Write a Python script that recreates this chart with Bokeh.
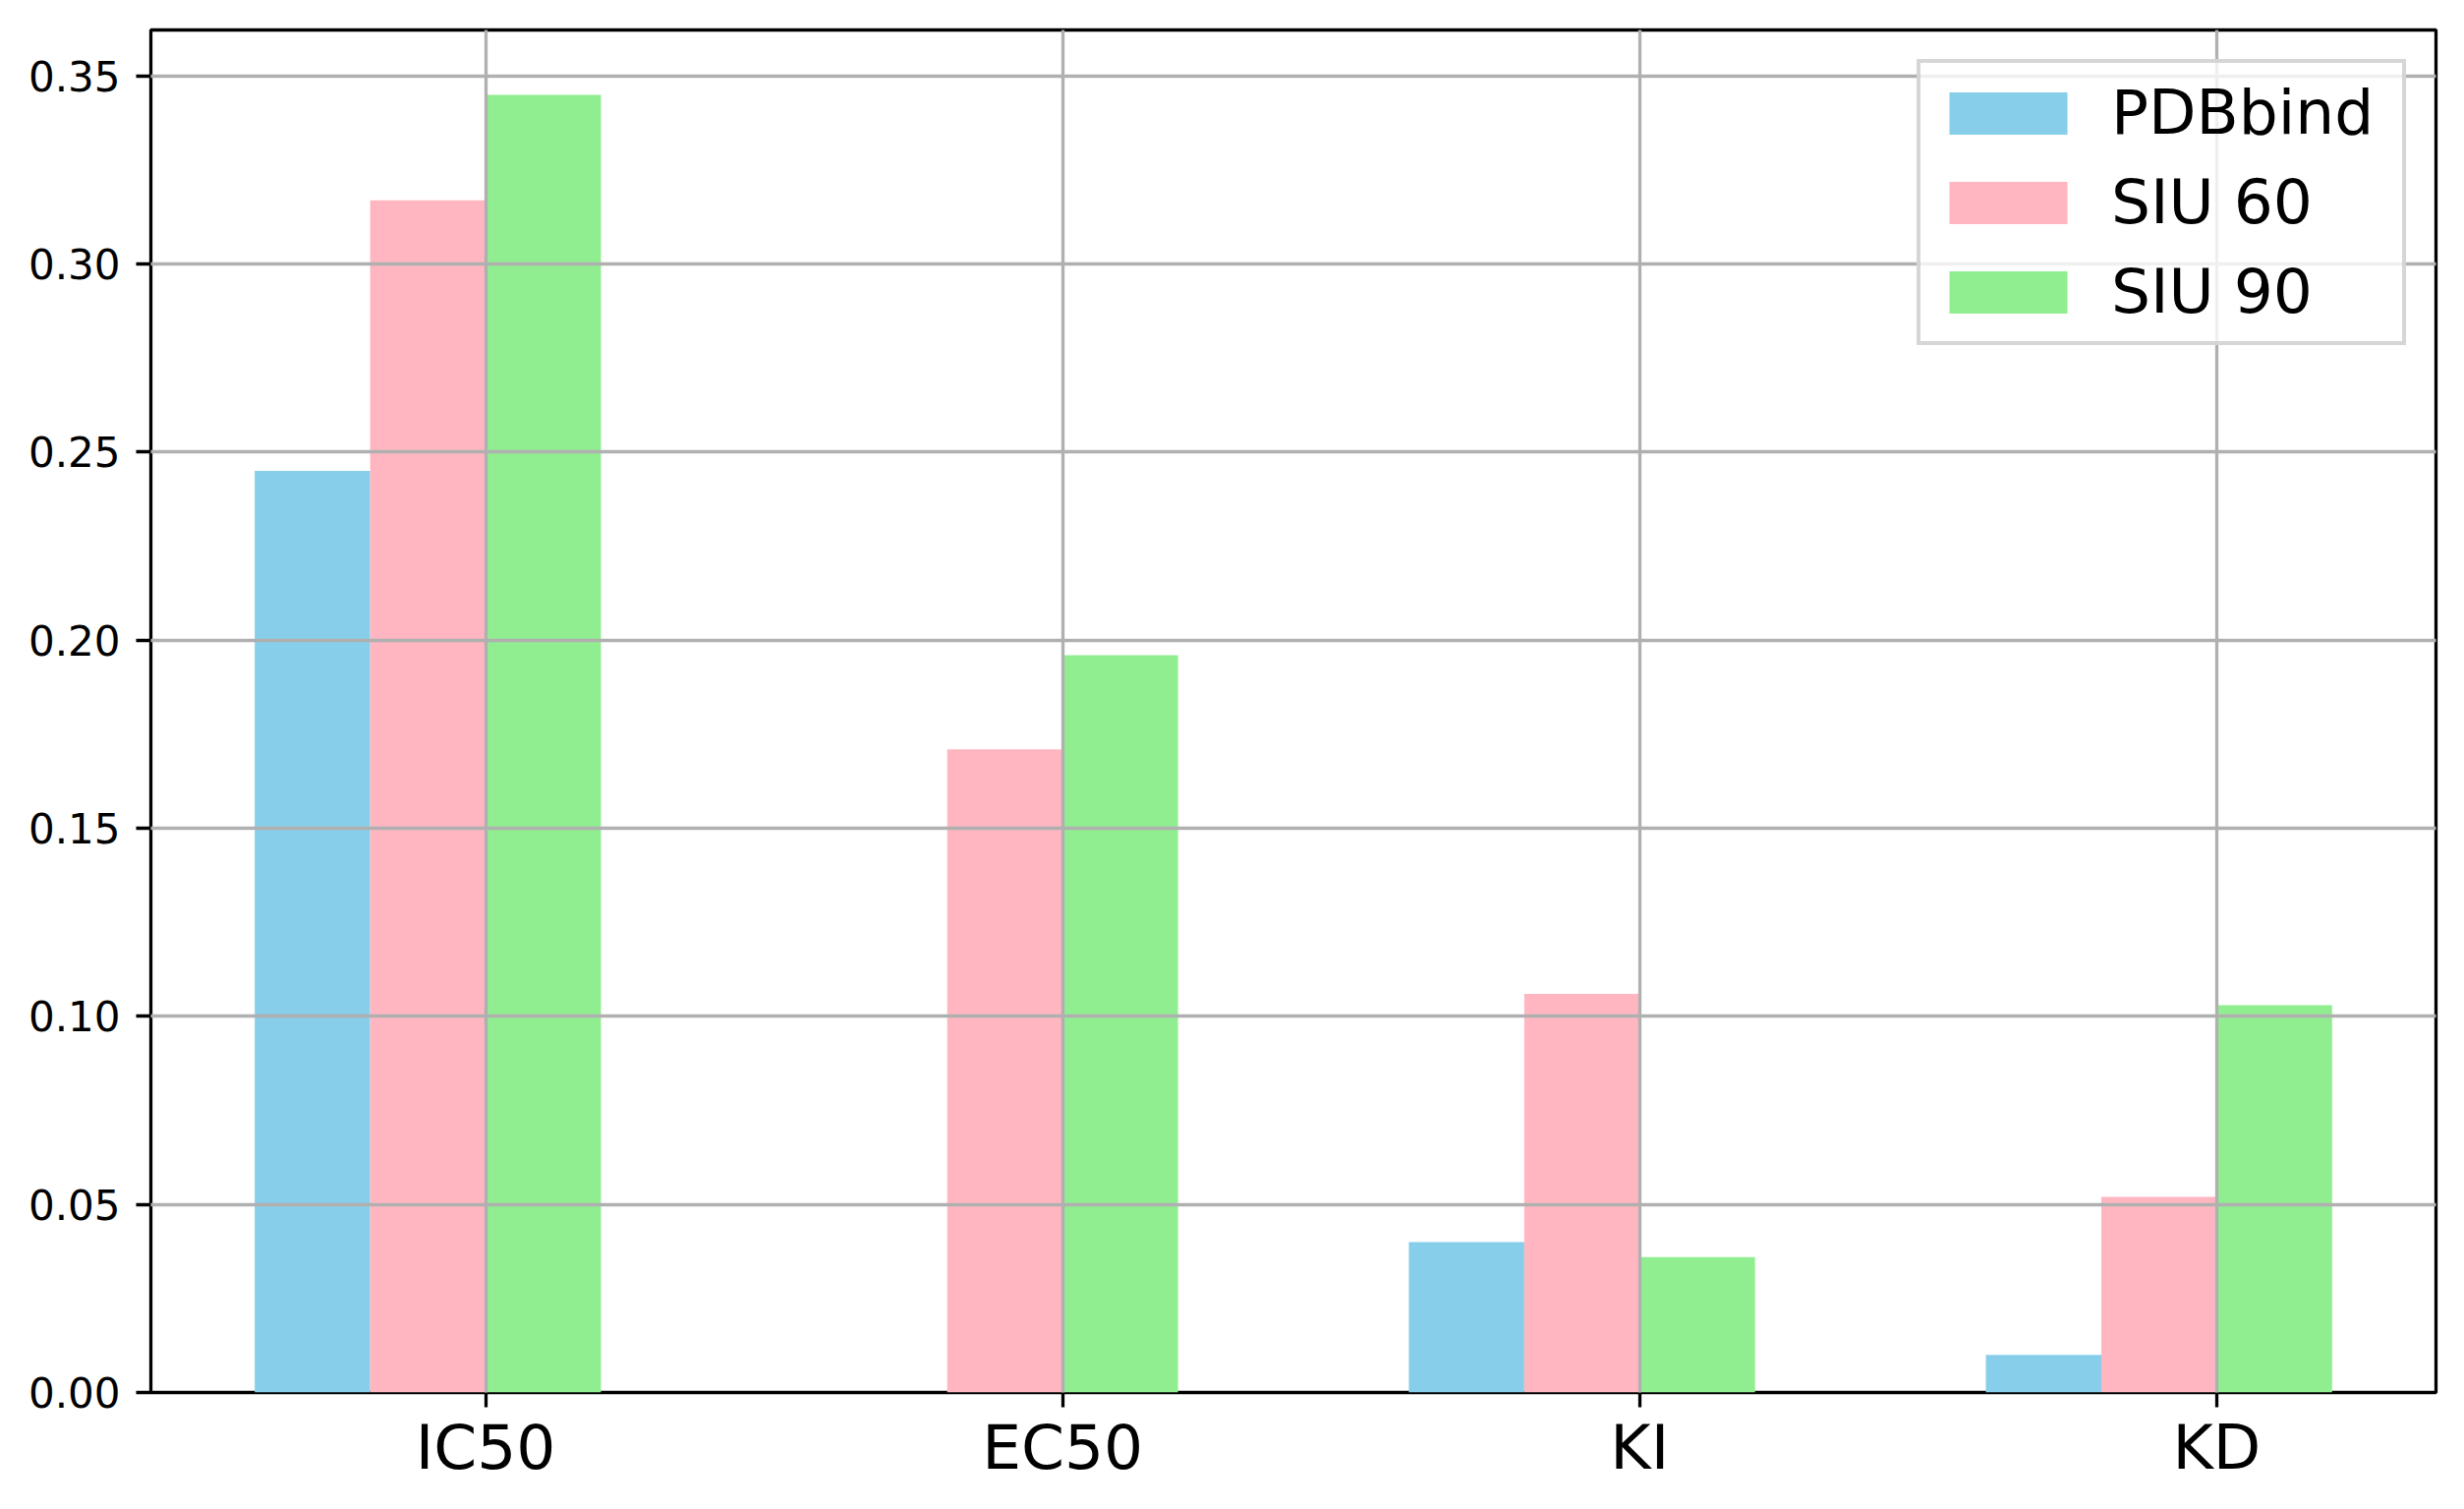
from bokeh.plotting import figure
from bokeh.models import Range1d, FixedTicker, PrintfTickFormatter, Legend, LegendItem
from bokeh.embed import file_html
from bokeh.resources import INLINE

categories = ["IC50", "EC50", "KI", "KD"]
series_names = ["PDBbind", "SIU 60", "SIU 90"]
pdbbind = [0.245, 0.0, 0.040, 0.010]
siu60 = [0.317, 0.171, 0.106, 0.052]
siu90 = [0.345, 0.196, 0.036, 0.103]
y_ticks = [0.0, 0.05, 0.10, 0.15, 0.20, 0.25, 0.30, 0.35]

colors = ["#87CEEB", "#FFB6C1", "#90EE90"]
offsets = [-0.3, -0.1, 0.1]
bar_width = 0.2
FONT = "DejaVu Sans"

p = figure(width=2499, height=1527, output_backend="svg", toolbar_location=None,
           x_range=Range1d(-0.58, 3.38), y_range=Range1d(0, 0.36225))
p.min_border_left = 153
p.min_border_right = 21
p.min_border_top = 30
p.min_border_bottom = 111
p.background_fill_color = "white"
p.border_fill_color = "white"
p.outline_line_color = "black"
p.outline_line_width = 3.3
p.outline_line_alpha = 1.0

xs_base = list(range(len(categories)))
renderers = []
for vals, col, off in zip([pdbbind, siu60, siu90], colors, offsets):
    r = p.vbar(x=[i + off for i in xs_base], top=vals, width=bar_width, bottom=0,
               fill_color=col, line_color=None)
    renderers.append(r)

# axes
p.xaxis.ticker = FixedTicker(ticks=xs_base)
p.xaxis.major_label_overrides = {i: c for i, c in enumerate(categories)}
p.yaxis.ticker = FixedTicker(ticks=y_ticks)
p.yaxis.formatter = PrintfTickFormatter(format="%.2f")
for ax in [p.xaxis[0], p.yaxis[0]]:
    ax.axis_line_color = None
    ax.major_tick_out = 15
    ax.major_tick_in = 0
    ax.major_tick_line_width = 3.3
    ax.major_tick_line_color = "black"
    ax.minor_tick_line_color = None
    ax.major_label_text_font = FONT
    ax.major_label_text_color = "black"
p.xaxis.major_label_text_font_size = "63px"
p.xaxis.major_label_standoff = 4
p.yaxis.major_label_text_font_size = "42px"
p.yaxis.major_label_standoff = 16

# grid above bars
for g in [p.xgrid[0], p.ygrid[0]]:
    g.grid_line_color = "#b0b0b0"
    g.grid_line_width = 3.3
    g.level = "guide"
p.xgrid.ticker = FixedTicker(ticks=xs_base)
p.ygrid.ticker = FixedTicker(ticks=y_ticks)

legend = Legend(items=[LegendItem(label=n, renderers=[r]) for n, r in zip(series_names, renderers)],
                location="top_right")
legend.margin = 30
legend.padding = 14
legend.spacing = 18
legend.glyph_width = 150
legend.glyph_height = 54
legend.label_standoff = 30
legend.label_width = 282
legend.label_text_font = FONT
legend.label_text_font_size = "63px"
legend.label_text_color = "black"
legend.border_line_color = "#cccccc"
legend.border_line_width = 4
legend.border_line_alpha = 0.8
legend.background_fill_color = "white"
legend.background_fill_alpha = 0.8
p.add_layout(legend)

open("out.html", "w").write(file_html(p, INLINE))
